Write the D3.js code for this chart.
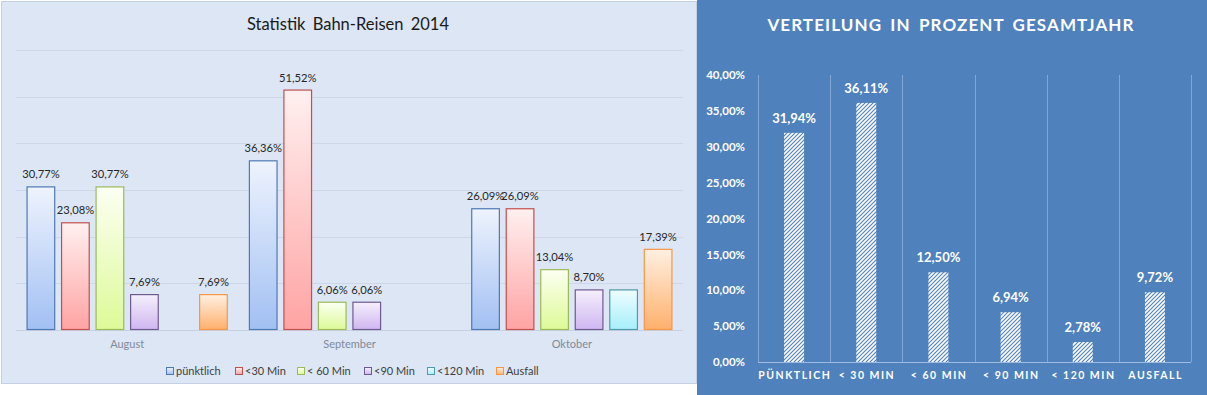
<!DOCTYPE html>
<html>
<head>
<meta charset="utf-8">
<script src="https://cdn.jsdelivr.net/npm/d3@7"></script>
<style>
  body { margin: 0; background: #ffffff; }
  svg { display: block; }
</style>
</head>
<body>
<div id="chart"></div>
<script>
// ----------------------------
// Data
// ----------------------------
const months = ["August", "September", "Oktober"];
const seriesNames = ["pünktlich", "<30 Min", "< 60 Min", "<90 Min", "<120 Min", "Ausfall"];
const augustValues = [30.77, 23.08, 30.77, 7.69, 0, 7.69];
const septemberValues = [36.36, 51.52, 6.06, 6.06, 0, 0];
const oktoberValues = [26.09, 26.09, 13.04, 8.70, 8.70, 17.39];
const hiddenLabels = [["Oktober", "<120 Min"]];

const totalCategories = ["PÜNKTLICH", "< 30 MIN", "< 60 MIN", "< 90 MIN", "< 120 MIN", "AUSFALL"];
const totalValues = [31.94, 36.11, 12.50, 6.94, 2.78, 9.72];
const totalTicks = [0, 5, 10, 15, 20, 25, 30, 35, 40];

const fmt = v => d3.format(".2f")(v).replace(".", ",") + "%";

const width = 1207;
const height = 395;
const font = "Lato, 'Open Sans', sans-serif";

const svg = d3.create("svg")
    .attr("width", width)
    .attr("height", height)
    .attr("viewBox", [0, 0, width, height]);

const defs = svg.append("defs");

// ----------------------------
// Left chart: monthly bars
// ----------------------------
const seriesColors = [
    { top: "#eef3fd", bottom: "#a2c0f3", stroke: "#4f79b4" },
    { top: "#fff0f0", bottom: "#ffa3a3", stroke: "#c0504d" },
    { top: "#fcfff2", bottom: "#ddfa98", stroke: "#9bbb59" },
    { top: "#f5f0fc", bottom: "#cfb6f1", stroke: "#6f5a8f" },
    { top: "#eefdff", bottom: "#a6effb", stroke: "#4f9aab" },
    { top: "#fff0e2", bottom: "#ffb06c", stroke: "#f79646" }
];

seriesColors.forEach((c, i) => {
    const g = defs.append("linearGradient")
        .attr("id", "grad" + i)
        .attr("x1", 0).attr("y1", 0).attr("x2", 0).attr("y2", 1);
    g.append("stop").attr("offset", "0%").attr("stop-color", c.top);
    g.append("stop").attr("offset", "100%").attr("stop-color", c.bottom);
});

const monthData = months.map((m, i) => ({
    month: m,
    values: [augustValues, septemberValues, oktoberValues][i]
}));

const left = svg.append("g");

left.append("rect")
    .attr("x", 1.5).attr("y", 1.5)
    .attr("width", 695).attr("height", 382)
    .attr("fill", "#dce6f5")
    .attr("stroke", "#c3cfe2");

const lx = d3.scaleBand()
    .domain(months)
    .range([16, 683])
    .paddingInner(0.095)
    .paddingOuter(0.0475);

const ls = d3.scaleBand()
    .domain(seriesNames)
    .range([0, lx.bandwidth()])
    .paddingInner(0.17)
    .paddingOuter(0);

const ly = d3.scaleLinear()
    .domain([0, 60])
    .range([330, 50]);

// gridlines
left.append("g")
    .selectAll("line")
    .data(ly.ticks(6))
    .join("line")
    .attr("x1", 16).attr("x2", 683)
    .attr("y1", d => Math.round(ly(d)) + 0.5)
    .attr("y2", d => Math.round(ly(d)) + 0.5)
    .attr("stroke", d => d === 0 ? "#c6d0df" : "#ccd7e9")
    .attr("stroke-width", 1);

const groups = left.append("g")
    .selectAll("g")
    .data(monthData)
    .join("g")
    .attr("transform", d => `translate(${lx(d.month)},0)`);

const cells = groups.selectAll("g")
    .data(d => d.values.map((v, i) => ({ month: d.month, series: seriesNames[i], idx: i, value: v })))
    .join("g");

cells.filter(d => d.value > 0)
    .append("rect")
    .attr("x", d => ls(d.series) + 0.5)
    .attr("y", d => ly(d.value) + 0.5)
    .attr("width", ls.bandwidth() - 1)
    .attr("height", d => ly(0) - ly(d.value) - 1)
    .attr("fill", d => `url(#grad${d.idx})`)
    .attr("stroke", d => seriesColors[d.idx].stroke)
    .attr("stroke-width", 1.2);

cells.filter(d => d.value > 0 && !hiddenLabels.some(h => h[0] === d.month && h[1] === d.series))
    .append("text")
    .attr("x", d => ls(d.series) + ls.bandwidth() / 2)
    .attr("y", d => ly(d.value) - 8)
    .attr("text-anchor", "middle")
    .attr("font-family", font)
    .attr("font-size", 11.2)
    .attr("fill", "#262626")
    .text(d => fmt(d.value));

// category axis
left.append("g")
    .attr("transform", "translate(0,330)")
    .call(d3.axisBottom(lx).tickSize(0).tickPadding(10))
    .call(g => g.select(".domain").remove())
    .call(g => g.selectAll("text")
        .attr("font-family", font)
        .attr("font-size", 11)
        .attr("fill", "#808a99"));

left.append("text")
    .attr("x", 348)
    .attr("y", 30)
    .attr("text-anchor", "middle")
    .attr("font-family", font)
    .attr("font-size", 16.5)
    .attr("word-spacing", 3)
    .attr("fill", "#1a1a1a")
    .text("Statistik Bahn-Reisen 2014");

// legend
const legendX = [166, 235, 297, 364, 427, 496];
const legend = left.append("g")
    .selectAll("g")
    .data(seriesNames)
    .join("g")
    .attr("transform", (d, i) => `translate(${legendX[i]},371)`);

legend.append("rect")
    .attr("x", 0.5).attr("y", -3.5)
    .attr("width", 7).attr("height", 7)
    .attr("fill", (d, i) => `url(#grad${i})`)
    .attr("stroke", (d, i) => seriesColors[i].stroke);

legend.append("text")
    .attr("x", 10)
    .attr("y", 4)
    .attr("font-family", font)
    .attr("font-size", 11)
    .attr("fill", "#404040")
    .text(d => d);

// ----------------------------
// Right chart: yearly distribution
// ----------------------------
const right = svg.append("g");

right.append("rect")
    .attr("x", 697).attr("y", 0)
    .attr("width", width - 697).attr("height", height)
    .attr("fill", "#4f81bd");

const hatch = defs.append("pattern")
    .attr("id", "hatch")
    .attr("patternUnits", "userSpaceOnUse")
    .attr("width", 4).attr("height", 4);
hatch.append("rect").attr("width", 4).attr("height", 4).attr("fill", "#ffffff");
hatch.append("path")
    .attr("d", "M-1,1 l2,-2 M0,4 l4,-4 M3,5 l2,-2")
    .attr("stroke", "#4f81bd")
    .attr("stroke-width", 1.1);

const rx = d3.scaleBand()
    .domain(totalCategories)
    .range([758, 1191])
    .paddingInner(0)
    .paddingOuter(0);

const ry = d3.scaleLinear()
    .domain([0, 40])
    .range([362, 75]);

// category separators
right.append("g")
    .selectAll("line")
    .data(totalCategories.concat(["end"]))
    .join("line")
    .attr("x1", (d, i) => Math.round(758 + i * rx.step()) + 0.5)
    .attr("x2", (d, i) => Math.round(758 + i * rx.step()) + 0.5)
    .attr("y1", 75)
    .attr("y2", 362)
    .attr("stroke", "#83a6d6")
    .attr("stroke-width", 1);

right.append("line")
    .attr("x1", 758).attr("x2", 1191)
    .attr("y1", 362.5).attr("y2", 362.5)
    .attr("stroke", "#9fbbe3")
    .attr("stroke-width", 1.2);

const barW = 20;
right.append("g")
    .selectAll("rect")
    .data(totalValues)
    .join("rect")
    .attr("x", (d, i) => rx(totalCategories[i]) + rx.bandwidth() / 2 - barW / 2)
    .attr("y", d => ry(d))
    .attr("width", barW)
    .attr("height", d => ry(0) - ry(d))
    .attr("fill", "url(#hatch)");

right.append("g")
    .selectAll("text")
    .data(totalValues)
    .join("text")
    .attr("x", (d, i) => rx(totalCategories[i]) + rx.bandwidth() / 2)
    .attr("y", d => ry(d) - 10)
    .attr("text-anchor", "middle")
    .attr("font-family", font)
    .attr("font-weight", "bold")
    .attr("font-size", 13)
    .attr("fill", "#ffffff")
    .text(d => fmt(d));

// y axis
right.append("g")
    .attr("transform", "translate(745,0)")
    .call(d3.axisLeft(ry).tickValues(totalTicks).tickSize(0).tickPadding(0).tickFormat(fmt))
    .call(g => g.select(".domain").remove())
    .call(g => g.selectAll("text")
        .attr("font-family", font)
        .attr("font-weight", "bold")
        .attr("font-size", 11.5)
        .attr("fill", "#ffffff"));

// x axis
right.append("g")
    .attr("transform", "translate(0.7,362)")
    .call(d3.axisBottom(rx).tickSize(0).tickPadding(10))
    .call(g => g.select(".domain").remove())
    .call(g => g.selectAll("text")
        .attr("font-family", font)
        .attr("font-weight", "bold")
        .attr("font-size", 10.5)
        .attr("letter-spacing", 1.5)
        .attr("fill", "#ffffff"));

right.append("text")
    .attr("x", 951)
    .attr("y", 31)
    .attr("text-anchor", "middle")
    .attr("font-family", font)
    .attr("font-weight", "bold")
    .attr("font-size", 17)
    .attr("letter-spacing", 1.1)
    .attr("word-spacing", 3)
    .attr("fill", "#ffffff")
    .text("VERTEILUNG IN PROZENT GESAMTJAHR");

document.getElementById("chart").appendChild(svg.node());
</script>
</body>
</html>
